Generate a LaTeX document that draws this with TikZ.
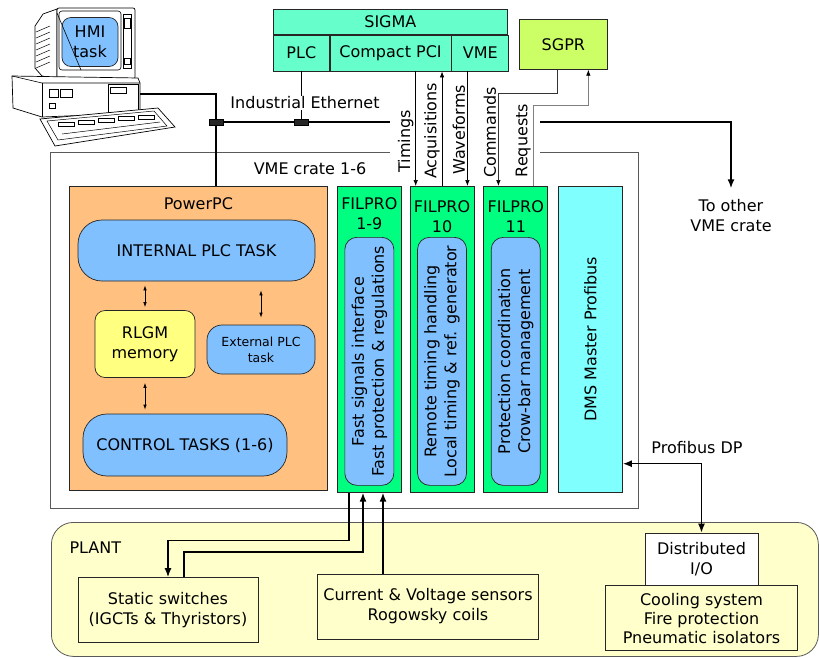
\documentclass[tikz,border=0pt]{standalone}
\usepackage{fontspec}
\setmainfont{DejaVu Sans}
\usetikzlibrary{positioning, arrows.meta, calc}

\definecolor{sigmagreen}{HTML}{66FFCC}
\definecolor{sgpryellow}{HTML}{CCFF66}
\definecolor{ppcorange}{HTML}{FFC080}
\definecolor{taskblue}{HTML}{80C0FF}
\definecolor{memyellow}{HTML}{FFFF80}
\definecolor{filgreen}{HTML}{00FF80}
\definecolor{dmscyan}{HTML}{80FFFF}
\definecolor{plantyellow}{HTML}{FFFFCC}

\begin{document}
\begin{tikzpicture}[x=1pt, y=-1pt, font=\fontsize{16}{20}\selectfont]

\tikzset{
  box/.style={rectangle, draw=black!85, line width=0.7pt, align=center, inner sep=2pt},
  cell/.style={box, fill=sigmagreen, minimum height=36, anchor=north west},
  task/.style={box, fill=taskblue, rounded corners=24pt},
  filpro/.style={box, fill=filgreen, minimum width=64, minimum height=306, anchor=north west},
  fntask/.style={task, rotate=90, minimum width=248, minimum height=49, rounded corners=12pt},
  plantbox/.style={box, fill=plantyellow},
  pc/.style={draw, line width=0.7pt, fill=white},
  link/.style={line width=1.2pt},
  crate/.style={draw=black!65, line width=0.8pt},
  arrow/.style={-{Latex[length=6pt,width=4.5pt,color=black]}, line width=0.7pt},
  sarrow/.style={{Latex[length=5pt,width=3.5pt]}-{Latex[length=5pt,width=3.5pt]}, line width=0.7pt},
  harrow/.style={-{Latex[length=9pt,width=7pt]}, line width=1.5pt},
  dharrow/.style={{Latex[length=9pt,width=7pt]}-{Latex[length=9pt,width=7pt]}, line width=1.5pt},
  vlabel/.style={rotate=90, anchor=south, inner sep=2pt},
  conn/.style={rectangle, fill=black!85, draw=black, minimum width=14, minimum height=6, inner sep=0pt}
}

\useasboundingbox (0,0) rectangle (819,657);

% ==========================
% Operator workstation
% ==========================
\draw[pc] (57,9) -- (43,14) -- (35,26) -- (35,68) -- (42,76) -- (57,79) -- cycle;
\foreach \k in {32,38,...,68}
  \draw[line width=0.5pt] (36,\k) -- (50,\k-6);
\draw[pc, rounded corners=2pt] (57,8) rectangle (135,79);
\draw[line width=0.6pt, rounded corners=3pt] (59,11) rectangle (121,70);
\draw[line width=0.6pt] (123,14) rectangle (131,68);
\draw[line width=0.6pt] (124,18) rectangle (130,28);
\draw[line width=0.6pt] (124,58) rectangle (130,64);
\draw[pc] (45,79) rectangle (128,83);
\node[task, rounded corners=9pt, minimum width=56, minimum height=49] (hmi) at (90,42) {HMI\\task};
\draw[line width=0.6pt] (57,13) -- (81,70);

\draw[pc] (12,76) -- (138,78) -- (140,83) -- (140,113) -- (42,117) -- (13,108) -- cycle;
\draw[line width=0.6pt] (12,76) -- (42,83) -- (140,83);
\draw[line width=0.6pt] (42,83) -- (42,117);
\draw[line width=0.6pt] (49,89) rectangle (58,97);
\draw[line width=0.6pt] (60,89) rectangle (72,97);
\draw[line width=0.6pt] (49,103) rectangle (55,108);
\draw[line width=0.6pt] (108,84) rectangle (138,112);
\draw[line width=0.6pt] (110,87) rectangle (126,93);

\draw[pc] (40,119) -- (158,108) -- (175,127) -- (55,146) -- cycle;
\draw[line width=0.5pt] (47,121) -- (154,111) -- (167,126) -- (58,140) -- cycle;
\foreach \k in {0,1,2,3,4}
  \draw[line width=0.5pt] (58+\k*20,122-\k*1.8) rectangle ++(16,4);
\draw[line width=0.5pt] (62,134) -- (160,122);

% ==========================
% SIGMA and SGPR
% ==========================
\node[box, fill=sigmagreen, minimum width=234, minimum height=25, anchor=north west] (sigma) at (273,9) {SIGMA};
\node[cell, minimum width=56] (plc) at (sigma.south west) {PLC};
\node[cell, minimum width=121] (cpci) at (plc.north east) {Compact PCI};
\node[cell, minimum width=57] (vme) at (cpci.north east) {VME};

\node[box, fill=sgpryellow, minimum width=88, minimum height=50, anchor=north west] (sgpr) at (519,19) {SGPR};

% ==========================
% VME crate
% ==========================
\draw[crate] (390,152) -- (50,152) -- (50,508) -- (638,508) -- (638,152) -- (540,152);
\node (cratelbl) at (310,169) {VME crate 1-6};

% PowerPC board
\node[box, fill=ppcorange, minimum width=258, minimum height=304, anchor=north west] (ppc) at (69,186) {};
\node[below=9pt of ppc.north, inner sep=2pt] (ppclbl) {PowerPC};

\node[task, minimum width=237, minimum height=61] (iplc) at (196.5,250.5) {INTERNAL PLC TASK};
\node[box, fill=memyellow, rounded corners=10pt, minimum width=100, minimum height=67] (rlgm) at (145,344) {RLGM\\memory};
\node[task, rounded corners=15pt, minimum width=108, minimum height=49,
      font=\fontsize{12.5}{16}\selectfont] (eplc) at (261,349.5) {External PLC\\task};
\node[task, minimum width=204, minimum height=62] (ctrl) at (185,445) {CONTROL TASKS (1-6)};

\draw[sarrow, shorten <=4pt, shorten >=3pt] (rlgm.north |- iplc.south) -- (rlgm.north);
\draw[sarrow, shorten <=9pt, shorten >=7pt] (eplc.north |- iplc.south) -- (eplc.north);
\draw[sarrow, shorten <=5pt, shorten >=4pt] (rlgm.south) -- (rlgm.south |- ctrl.north);

% FILPRO boards
\node[filpro] (fil19) at (337,186) {};
\node[filpro, right=8pt of fil19] (fil10) {};
\node[filpro, right=9pt of fil10] (fil11) {};
\node[filpro, fill=dmscyan, right=10pt of fil11] (dms) {};

\node[below=9pt of fil19.north, align=center, inner sep=2pt] (fil19lbl) {FILPRO\\1-9};
\node[below=12pt of fil10.north, align=center, inner sep=2pt] (fil10lbl) {FILPRO\\10};
\node[below=12pt of fil11.north, align=center, inner sep=2pt] (fil11lbl) {FILPRO\\11};

\node[fntask] (fs19) at ([yshift=-22pt]fil19.center) {Fast signals interface\\Fast protection \& regulations};
\node[fntask] (fs10) at ([yshift=-22pt]fil10.center) {Remote timing handling\\Local timing \& ref. generator};
\node[fntask] (fs11) at ([yshift=-22pt]fil11.center) {Protection coordination\\Crow-bar management};
\node[rotate=90] (dmslbl) at (dms.center) {DMS Master Profibus};

% ==========================
% Ethernet and SIGMA / SGPR links
% ==========================
\coordinate (pcport) at (140,94);
\coordinate (hmijoin) at (216,122);
\coordinate (ethend) at (390,122);
\coordinate (ethcont) at (540,122);

\draw[link] (pcport) -| (hmijoin) -- (hmijoin |- ppc.north);
\draw[link] (hmijoin) -- (ethend);
\draw[link] (plc.south) -- (plc.south |- hmijoin);
\node[conn] (tapL) at (hmijoin) {};
\node[conn] (tapM) at (plc.south |- hmijoin) {};
\node[fill=white, inner sep=1pt] (ethlbl) at (305,103) {Industrial Ethernet};

\node[align=center] (other) at (731,216) {To other\\VME crate};
\draw[harrow, shorten >=8pt] (ethcont) -| (other.north);

\coordinate (tim) at ([xshift=6pt]fil10.north west);
\coordinate (acq) at (fil10.north);
\coordinate (wav) at ([xshift=-7pt]fil10.north east);
\coordinate (cmd) at ([xshift=15pt]fil11.north west);
\coordinate (req) at ([xshift=-15pt]fil11.north east);

\draw[arrow] (tim |- cpci.south) -- node[vlabel, pos=.61] {Timings} (tim);
\draw[arrow] (acq) -- node[vlabel, pos=.48] {Acquisitions} (acq |- cpci.south);
\draw[arrow] (wav |- vme.south) -- node[vlabel, pos=.51] {Waveforms} (wav);
\draw[arrow, draw=black!80] ([xshift=-6pt]sgpr.south) -- ++(0,24) -| node[vlabel, pos=.71] {Commands} (cmd);
\draw[arrow, draw=black!50] (req) -- node[vlabel, pos=.56] {Requests} ++(0,-81) -| ([xshift=25pt]sgpr.south);

% ==========================
% Plant
% ==========================
\node[draw=black!65, line width=0.8pt, fill=plantyellow, rounded corners=22pt,
      minimum width=767, minimum height=134, anchor=north west] (plant) at (51,522) {};
\node[anchor=west] (plantlbl) at (66,548) {PLANT};

\node[plantbox, minimum width=180, minimum height=65] (ssw) at (168,610) {Static switches\\(IGCTs \& Thyristors)};
\node[plantbox, minimum width=221, minimum height=65] (sens) at (428,606.5) {Current \& Voltage sensors\\Rogowsky coils};
\node[plantbox, fill=white, minimum width=113, minimum height=52] (dio) at (701.5,559) {Distributed\\I/O};
\node[plantbox, minimum width=192, minimum height=65, below=0pt of dio,
      font=\fontsize{16}{19}\selectfont] (aux) {Cooling system\\Fire protection\\Pneumatic isolators};

\coordinate (fsout) at ([xshift=12pt]fil19.south west);
\coordinate (fsin1) at ([xshift=26pt]fil19.south west);
\coordinate (fsin2) at ([xshift=46pt]fil19.south west);

\draw[harrow] (fsout) -- ++(0,48) -| (ssw.north);
\draw[harrow] ([xshift=16pt]ssw.north) -- ++(0,-25) -| (fsin1);
\draw[harrow] (fsin2 |- sens.north) -- (fsin2);

% Profibus DP field bus
\coordinate (pbport) at ([yshift=29pt]dms.south east);
\draw[dharrow] (pbport) -| (dio.north);
\node (pblbl) at (697,448) {Profibus DP};

\end{tikzpicture}
\end{document}
